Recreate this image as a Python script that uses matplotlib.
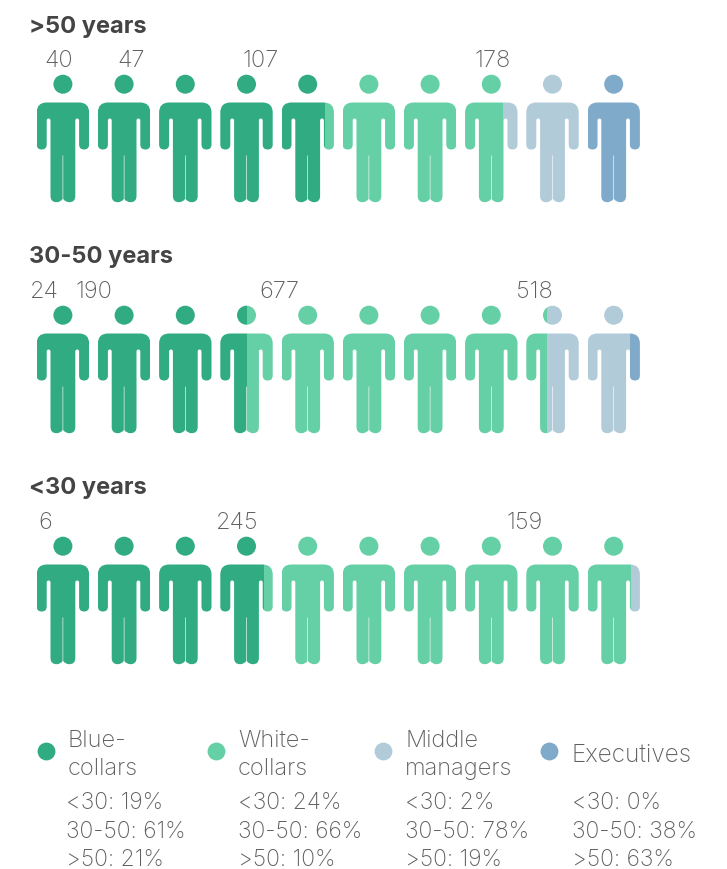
import matplotlib
matplotlib.use("Agg")
import matplotlib.pyplot as plt
from matplotlib.patches import PathPatch, Rectangle
from matplotlib.path import Path
from matplotlib.transforms import Affine2D

# data
age_groups = [">50 years", "30-50 years", "<30 years"]
categories = ["Blue-\ncollars", "White-\ncollars", "Middle\nmanagers", "Executives"]

# number of icons (out of 10) per category, one list per age group
icons_over50 = [4.83, 2.89, 1.28, 1.0]
icons_30to50 = [3.5, 4.9, 1.42, 0.18]
icons_under30 = [3.83, 6.0, 0.17, 0.0]
icon_shares = [icons_over50, icons_30to50, icons_under30]

counts_over50 = ["40", "47", "107", "178"]
counts_30to50 = ["24", "190", "677", "518"]
counts_under30 = ["6", "245", "159"]
counts = [counts_over50, counts_30to50, counts_under30]

legend_under30 = ["19%", "24%", "2%", "0%"]
legend_30to50 = ["61%", "66%", "78%", "38%"]
legend_over50 = ["21%", "10%", "19%", "63%"]

# layout, in pixels of the reference
colors = ["#30ab82", "#65cfa5", "#b1cbd9", "#7faac9"]
row_tops = [103.5, 334.5, 565.5]
title_ys = [27, 257, 488]
count_ys = [61, 292, 523]
count_xs = [[59, 131, 261, 493], [44, 94, 279, 534], [45, 237, 525]]
legend_dot_xs = [46, 216, 383, 549]
legend_text_xs = [68, 238, 405, 572]
legend_stat_xs = [66, 238, 405, 572]
icon_left = 36.7
icon_pitch = 61.2
icon_w = 52.4

FONT = "Inter"
TEXT_DARK = "#444444"
TEXT_GREY = "#5f5f5f"


def person_path():
    C3, L, M = Path.CURVE3, Path.LINETO, Path.MOVETO
    verts = [
        (0, 10), (0, 0), (10, 0), (42.4, 0), (52.4, 0), (52.4, 10),
        (52.4, 42), (52.4, 47), (47.4, 47), (42.4, 47), (42.4, 42),
        (42.4, 18), (42.4, 16), (40.5, 16), (38.6, 16), (38.6, 18),
        (38.6, 93.5), (38.6, 99.7), (32.6, 99.7), (28.5, 99.7), (26.5, 96.5),
        (26.5, 53), (25.9, 53), (25.9, 96.5),
        (23.9, 99.7), (19.8, 99.7), (13.8, 99.7), (13.8, 93.5),
        (13.8, 18), (13.8, 16), (11.9, 16), (10, 16), (10, 18),
        (10, 42), (10, 47), (5, 47), (0, 47), (0, 42), (0, 10),
    ]
    codes = [
        M, C3, C3, L, C3, C3,
        L, C3, C3, C3, C3,
        L, C3, C3, C3, C3,
        L, C3, C3, C3, C3,
        L, L, L,
        C3, C3, C3, C3,
        L, C3, C3, C3, C3,
        L, C3, C3, C3, C3, L,
    ]
    body = Path(verts, codes)
    head = Path.circle((26.2, -18.3), 9.5)
    return Path.make_compound_path(head, body)


fig = plt.figure(figsize=(7.27, 8.70), dpi=100)
ax = fig.add_axes([0, 0, 1, 1])
ax.set_xlim(0, 727)
ax.set_ylim(870, 0)
ax.axis("off")

person = person_path()

for title, title_y, top, shares, row_counts, xs, count_y in zip(
    age_groups, title_ys, row_tops, icon_shares, counts, count_xs, count_ys
):
    ax.text(29, title_y, title, fontsize=17, fontweight="bold", color=TEXT_DARK,
            family=FONT, va="center", ha="left")
    for label, x in zip(row_counts, xs):
        ax.text(x, count_y, label, fontsize=17, fontweight="light", color=TEXT_GREY,
                family=FONT, va="center", ha="center")

    start = 0.0
    for share, color in zip(shares, colors):
        end = start + share
        for i in range(10):
            lo = max(start, i)
            hi = min(end, i + 1)
            if hi <= lo:
                continue
            left = icon_left + i * icon_pitch
            patch = PathPatch(person, facecolor=color, edgecolor="none",
                              transform=Affine2D().translate(left, top) + ax.transData)
            ax.add_patch(patch)
            clip = Rectangle((left + (lo - i) * icon_w, top - 40), (hi - lo) * icon_w, 150,
                             transform=ax.transData)
            patch.set_clip_path(clip)
        start = end

# legend
for i, name in enumerate(categories):
    ax.scatter([legend_dot_xs[i]], [752], s=165, color=colors[i], linewidths=0)
    if "\n" in name:
        first, second = name.split("\n")
        ax.text(legend_text_xs[i], 741, first, fontsize=17, fontweight="light",
                color=TEXT_GREY, family=FONT, va="center")
        ax.text(legend_text_xs[i], 769, second, fontsize=17, fontweight="light",
                color=TEXT_GREY, family=FONT, va="center")
    else:
        ax.text(legend_text_xs[i], 755, name, fontsize=17.5, fontweight="light",
                color=TEXT_GREY, family=FONT, va="center")
    stats = [("<30", legend_under30[i], 803), ("30-50", legend_30to50[i], 832),
             (">50", legend_over50[i], 860)]
    for group, value, y in stats:
        ax.text(legend_stat_xs[i], y, f"{group}: {value}", fontsize=16.5, fontweight="light",
                color=TEXT_GREY, family=FONT, va="center")

fig.savefig("out.png", dpi=100, facecolor="white")
